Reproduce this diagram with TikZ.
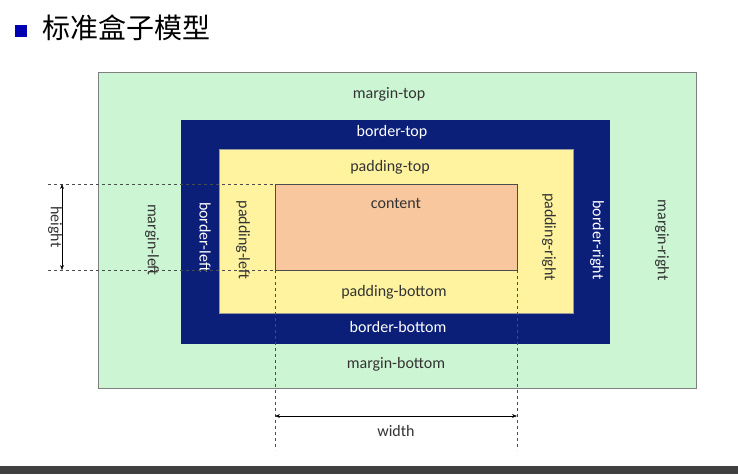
\documentclass[tikz,border=0pt]{standalone}
\usepackage{fontspec}
\setmainfont{Carlito}
\newfontfamily\cjk{Noto Sans CJK SC}
\usetikzlibrary{arrows.meta}
\definecolor{marginc}{HTML}{CCF5D4}
\definecolor{borderc}{HTML}{0B1F78}
\definecolor{paddingc}{HTML}{FFF3A0}
\definecolor{contentc}{HTML}{F8C79E}
\tikzset{
  lbl/.style={font=\fontsize{16}{18}\selectfont, text=black!80, inner sep=0pt},
  wlbl/.style={lbl, text=white},
  dim/.style={dashed, black!70, thin},
  dimarrow/.style={{Stealth[length=5pt]}-{Stealth[length=5pt]}, black}
}
\begin{document}
\begin{tikzpicture}[x=1pt,y=-1pt]
  \useasboundingbox (0,0) rectangle (738,474);
  \fill[white] (0,0) rectangle (738,474);
  \fill[black!75] (0,466) rectangle (738,474);
  % title
  \fill[blue!70!black] (15,25) rectangle (27,37);
  \node[anchor=west, font=\cjk\fontsize{28}{30}\selectfont, inner sep=0pt] (title) at (42,28) {标准盒子模型};
  % boxes
  \draw[black!50, fill=marginc] (98,72) rectangle (696,388);
  \fill[borderc] (181,120) rectangle (610,344);
  \draw[black!40, fill=paddingc] (219,149) rectangle (573,313);
  \draw[black!70, fill=contentc] (275,184) coordinate (ctl) rectangle (517,270) coordinate (cbr);
  \coordinate (ctr) at (517,184);
  \coordinate (cbl) at (275,270);
  % labels
  \node[lbl] (mt) at (389,94) {margin-top};
  \node[wlbl] (bt) at (392,132) {border-top};
  \node[lbl] (pt) at (390,167) {padding-top};
  \node[lbl] (ct) at (396,203) {content};
  \node[lbl] (pb) at (394,292) {padding-bottom};
  \node[wlbl] (bb) at (398,327) {border-bottom};
  \node[lbl] (mb) at (396,364) {margin-bottom};
  \node[lbl, rotate=-90] (ml) at (152,240) {margin-left};
  \node[wlbl, rotate=-90] (bl) at (205,237) {border-left};
  \node[lbl, rotate=-90] (pl) at (243,240) {padding-left};
  \node[lbl, rotate=-90] (pr) at (549,237) {padding-right};
  \node[wlbl, rotate=-90] (br) at (597,240) {border-right};
  \node[lbl, rotate=-90] (mr) at (662,240) {margin-right};
  % dimensions
  \coordinate (h1) at (48,184);
  \coordinate (h2) at (48,270);
  \coordinate (w1) at (275,450);
  \coordinate (w2) at (517,450);
  \draw[dim] (h1) -- (ctl);
  \draw[dim] (h2) -- (cbl);
  \draw[dim] (cbl) -- (w1);
  \draw[dim] (cbr) -- (w2);
  \draw[dimarrow] (62,184) -- (62,270);
  \node[lbl, rotate=-90] (height) at (55,227) {height};
  \draw[dimarrow] (275,416) -- (517,416);
  \node[lbl] (width) at (396,431) {width};
\end{tikzpicture}
\end{document}
